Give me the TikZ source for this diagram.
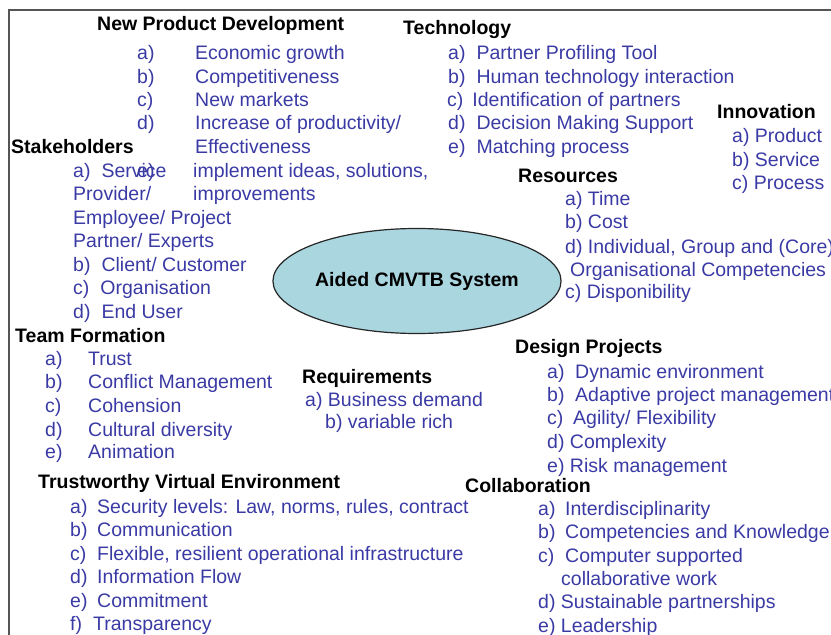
\documentclass[tikz,border=0pt]{standalone}
\usepackage{fontspec}
\setmainfont{Liberation Sans}
\usetikzlibrary{shapes.geometric}
\definecolor{itemblue}{RGB}{58,58,165}
\definecolor{framegray}{RGB}{85,85,85}
\definecolor{ellfill}{RGB}{170,214,224}
\tikzset{
  item/.style={anchor=base west, inner sep=0pt, text=itemblue, font=\fontsize{19.5}{22}\selectfont},
  head/.style={anchor=base west, inner sep=0pt, text=black, font=\fontsize{19.5}{22}\selectfont\bfseries},
  hub/.style={ellipse, draw=black!85, line width=1.2pt, fill=ellfill, minimum width=260pt, minimum height=105pt, inner sep=0pt, font=\fontsize{19.5}{22}\selectfont\bfseries}
}
\begin{document}
\begin{tikzpicture}[x=1pt,y=-1pt]
\useasboundingbox (0,0) rectangle (831,635);
\draw[framegray, line width=2pt] (9,640) -- (9,10) -- (840,10);
% hub
\node[hub] (hub) at (417,281) {Aided CMVTB System};
% New Product Development
\node[head] (npd) at (97,30) {New Product Development};
\node[item] (npdla) at (137,59) {a)};
\node[item] (npdlb) at (137,83) {b)};
\node[item] (npdlc) at (137,106) {c)};
\node[item] (npdld) at (137,129) {d)};
\node[item] (npdle) at (137,177) {e)};
\node[item] (npda) at (195,59) {Economic growth};
\node[item] (npdb) at (195,83) {Competitiveness};
\node[item] (npdc) at (195,106) {New markets};
\node[item] (npdd) at (195,129) {Increase of productivity/};
\node[item] (npdd2) at (195,153) {Effectiveness};
\node[item] (npde) at (193,177) {implement ideas, solutions,};
\node[item] (npde2) at (193,200) {improvements};
% Technology
\node[head] (tec) at (403,34) {Technology};
\node[item] (teca) at (448,59) {a)\hspace{11pt}Partner Profiling Tool};
\node[item] (tecb) at (448,83) {b)\hspace{11pt}Human technology interaction};
\node[item] (tecc) at (447,106) {c)\hspace{9pt}Identification of partners};
\node[item] (tecd) at (448,129) {d)\hspace{11pt}Decision Making Support};
\node[item] (tece) at (448,153) {e)\hspace{11pt}Matching process};
% Innovation
\node[head] (inn) at (717,118) {Innovation};
\node[item] (inna) at (732,142) {a) Product};
\node[item] (innb) at (732,166) {b) Service};
\node[item] (innc) at (732,189) {c) Process};
% Stakeholders
\node[head] (stk) at (11,153) {Stakeholders};
\node[item] (stka) at (73,177) {a)\hspace{11pt}Service};
\node[item] (stka2) at (73,200) {Provider/};
\node[item] (stka3) at (73,224) {Employee/ Project};
\node[item] (stka4) at (73,247) {Partner/ Experts};
\node[item] (stkb) at (73,271) {b)\hspace{11pt}Client/ Customer};
\node[item] (stkc) at (73,294) {c)\hspace{11pt}Organisation};
\node[item] (stkd) at (73,318) {d)\hspace{11pt}End User};
% Resources
\node[head] (res) at (518,182) {Resources};
\node[item] (resa) at (565,205) {a) Time};
\node[item] (resb) at (565,228) {b) Cost};
\node[item] (resd) at (565,253) {d) Individual, Group and (Core)};
\node[item] (resd2) at (570,276) {Organisational Competencies};
\node[item] (resc) at (565,298) {c) Disponibility};
% Team Formation
\node[head] (tf) at (15,342) {Team Formation};
\node[item] (tfla) at (45,365) {a)};
\node[item] (tflb) at (45,388) {b)};
\node[item] (tflc) at (45,412) {c)};
\node[item] (tfld) at (45,436) {d)};
\node[item] (tfle) at (45,458) {e)};
\node[item] (tfa) at (88,365) {Trust};
\node[item] (tfb) at (88,388) {Conflict Management};
\node[item] (tfc) at (88,412) {Cohension};
\node[item] (tfd) at (88,436) {Cultural diversity};
\node[item] (tfe) at (88,458) {Animation};
% Requirements
\node[head] (req) at (302,383) {Requirements};
\node[item] (reqa) at (305,406) {a) Business demand};
\node[item] (reqb) at (325,428) {b) variable rich};
% Design Projects
\node[head] (dp) at (515,353) {Design Projects};
\node[item] (dpla) at (547,378) {a)};
\node[item] (dplb) at (547,401) {b)};
\node[item] (dplc) at (547,424) {c)};
\node[item] (dpa) at (575,378) {Dynamic environment};
\node[item] (dpb) at (575,401) {Adaptive project management};
\node[item] (dpc) at (573,424) {Agility/ Flexibility};
\node[item] (dpd) at (547,448) {d) Complexity};
\node[item] (dpe) at (547,472) {e) Risk management};
% Trustworthy Virtual Environment
\node[head] (tve) at (38,488) {Trustworthy Virtual Environment};
\node[item] (tvela) at (70,513) {a)};
\node[item] (tvelb) at (70,536) {b)};
\node[item] (tvelc) at (70,560) {c)};
\node[item] (tveld) at (70,583) {d)};
\node[item] (tvele) at (70,607) {e)};
\node[item] (tvelf) at (70,630) {f)};
\node[item] (tvea) at (97,513) {Security levels: Law, norms, rules, contract};
\node[item] (tveb) at (97,536) {Communication};
\node[item] (tvec) at (97,560) {Flexible, resilient operational infrastructure};
\node[item] (tved) at (97,583) {Information Flow};
\node[item] (tvee) at (97,607) {Commitment};
\node[item] (tvef) at (93,630) {Transparency};
% Collaboration
\node[head] (col) at (465,492) {Collaboration};
\node[item] (colla) at (538,515) {a)};
\node[item] (collb) at (538,538) {b)};
\node[item] (collc) at (538,562) {c)};
\node[item] (cola) at (565,515) {Interdisciplinarity};
\node[item] (colb) at (565,538) {Competencies and Knowledge};
\node[item] (colc) at (565,562) {Computer supported};
\node[item] (colc2) at (561,585) {collaborative work};
\node[item] (cold) at (538,608) {d) Sustainable partnerships};
\node[item] (cole) at (538,632) {e) Leadership};
\end{tikzpicture}
\end{document}
